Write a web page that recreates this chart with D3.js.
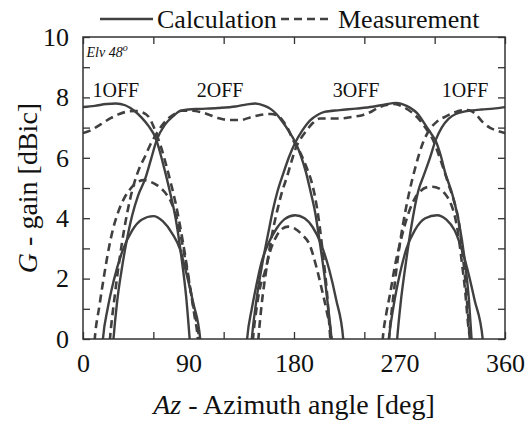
<!DOCTYPE html>
<html>
<head>
<meta charset="utf-8">
<script src="https://cdn.jsdelivr.net/npm/d3@7"></script>
<style>
  html, body { margin: 0; padding: 0; background: #fff; }
  svg { display: block; }
  svg text { font-family: "Liberation Serif", "Tinos", "Times New Roman", Times, "DejaVu Serif", serif !important; fill: #111; }
</style>
</head>
<body>
<svg id="chart" width="530" height="424"></svg>
<script>
// ---------------- data ----------------
const xTicks = [0, 60, 120, 180, 240, 300, 360];
const xLabels = [0, 90, 180, 270, 360];
const yTicks = [0, 1, 2, 3, 4, 5, 6, 7, 8, 9, 10];
const yLabels = [0, 2, 4, 6, 8, 10];

const stateLabels = ["1OFF", "2OFF", "3OFF", "1OFF"];
const stateLabelAz = [28, 117, 233, 326];
const stateLabelG = [8, 8, 8, 8];

// Calculation (solid)
const calc1OFF = [[0,7.68],[10,7.72],[20,7.78],[28,7.8],[36,7.74],[44,7.55],[50,7.33],[56,7.05],[62,6.65],[68,5.85],[74,4.9],[79,4.0],[84,2.7],[88,1.4],[91,0],[92,-0.5],
  null,
  [267,-0.5],[268,0],[271,1.2],[275,2.4],[280,3.7],[286,4.9],[291,5.45],[296,6.0],[301,6.6],[306,7.0],[312,7.3],[318,7.45],[325,7.53],[332,7.57],[340,7.6],[350,7.63],[360,7.68]];
const calc1OFFside = [[139,-0.5],[140,0],[144,1.0],[148,1.8],[152,2.5],[158,3.15],[165,3.65],[172,3.97],[181,4.1],[189,4.0],[196,3.7],[203,3.15],[210,2.3],[216,1.3],[222,0],[223,-0.5]];
const calc2OFF = [[25,-0.5],[26,0],[29,1.2],[33,2.3],[37,3.2],[42,4.1],[47,4.75],[53,5.3],[58,5.95],[63,6.6],[70,7.1],[77,7.38],[83,7.55],[90,7.6],[100,7.62],[115,7.65],[130,7.7],[140,7.77],[147,7.8],[155,7.72],[160,7.62],[165,7.45],[170,7.2],[175,6.92],[181,6.52],[186,6.05],[190,5.55],[194,4.9],[198,4.2],[202,3.2],[206,2.1],[209,1.1],[212,0],[213,-0.5]];
const calc3OFFside = [[16,-0.5],[17,0],[21,1.0],[26,1.9],[34,2.95],[42,3.6],[50,3.95],[60,4.07],[68,3.9],[76,3.5],[83,2.95],[88,2.2],[94,1.2],[100,0],[101,-0.5]];
const calc3OFF = [[143,-0.5],[144,0],[148,1.3],[153,2.5],[158,3.5],[162,4.27],[166,4.9],[171,5.5],[176,6.05],[181,6.5],[187,6.9],[194,7.25],[200,7.42],[206,7.52],[219,7.58],[233,7.63],[247,7.69],[258,7.77],[267,7.82],[276,7.72],[285,7.48],[293,7.03],[297,6.8],[301,6.55],[305,6.1],[309,5.5],[315,4.8],[321,3.8],[326,2.5],[329,1.4],[331.5,0],[332.5,-0.5]];
const calc2OFFside = [[260,-0.5],[261,0],[265,1.1],[270,2.1],[276,3.0],[283,3.6],[292,4.0],[302,4.1],[310,3.95],[317,3.6],[322,3.1],[328,2.3],[334,1.3],[341,0],[342,-0.5]];

// Measurement (dashed)
const meas1OFF = [[0,6.82],[6,6.9],[12,7.03],[18,7.18],[24,7.32],[31,7.45],[38,7.53],[45,7.55],[51,7.5],[57,7.3],[60,7.05],[63,6.75],[67,6.3],[71,5.75],[75,5.15],[79,4.5],[83,3.7],[87,2.8],[91,1.8],[95,0.8],[98,0],[99,-0.5],
  null,
  [260,-0.5],[261,0],[265,1.5],[269,2.8],[273,3.8],[278,4.8],[284,5.75],[290,6.5],[296,6.95],[302,7.2],[310,7.38],[318,7.52],[326,7.58],[331,7.55],[336,7.4],[341,7.18],[347,7.0],[353,6.9],[360,6.82]];
const meas3OFFside = [[9,-0.5],[10,0],[14,1.1],[18,2.1],[22,3.0],[26,3.7],[30,4.2],[35,4.65],[40,4.95],[46,5.18],[52,5.26],[58,5.2],[64,5.07],[70,4.85],[75,4.55],[80,4.0],[85,3.1],[90,2.0],[95,0.9],[99,0],[100,-0.5]];
const meas2OFF = [[22,-0.5],[23,0],[27,1.4],[31,2.6],[35,3.6],[40,4.6],[44,5.2],[48,5.65],[53,6.05],[57,6.4],[62,6.75],[67,7.05],[72,7.28],[78,7.45],[84,7.56],[92,7.56],[100,7.52],[108,7.42],[117,7.3],[125,7.25],[134,7.25],[142,7.33],[151,7.42],[160,7.45],[166,7.4],[170,7.25],[175,6.95],[179,6.6],[185,6.2],[190,5.75],[195,5.2],[198,4.7],[202,3.7],[205,2.7],[208,1.6],[211,0],[212,-0.5]];
const meas1OFFside = [[144,-0.5],[145,0],[148,1.0],[151,1.7],[155,2.2],[160,2.95],[165,3.4],[170,3.65],[175,3.72],[181,3.65],[187,3.45],[193,3.15],[199,2.4],[204,1.6],[208,0.9],[212,0],[213,-0.5]];
const meas3OFF = [[148.6,-0.5],[149.6,0],[152,1.0],[156,2.2],[161,3.4],[166,4.3],[170,4.9],[174,5.37],[178,5.9],[182,6.37],[186,6.65],[191,6.92],[196,7.15],[202,7.3],[210,7.3],[219,7.3],[229,7.35],[239,7.42],[247,7.55],[253,7.68],[260,7.76],[265,7.78],[270,7.74],[277,7.6],[285,7.35],[292,7.0],[298.6,6.59],[303,6.15],[307,5.7],[312,5.1],[317,4.5],[320,4.0],[323,3.1],[326,2.0],[328.5,0.8],[330,0],[331,-0.5]];
const meas2OFFside = [[254.7,-0.5],[255.7,0],[259,0.9],[262,1.5],[266,2.4],[270,3.1],[274,3.7],[278,4.2],[283,4.65],[288,4.9],[293,5.02],[298,5.04],[304,4.98],[309,4.8],[313,4.55],[317,4.1],[320,3.5],[323,2.6],[326,1.6],[328.5,0.5],[330,0],[331,-0.5]];

const calcSeries = [calc1OFF, calc1OFFside, calc2OFF, calc3OFFside, calc3OFF, calc2OFFside];
const measSeries = [meas1OFF, meas3OFFside, meas2OFF, meas1OFFside, meas3OFF, meas2OFFside];

// ---------------- layout ----------------
const W = 530, H = 424;
const m = { left: 83, right: 25, top: 37, bottom: 85 };
const pw = W - m.left - m.right, ph = H - m.top - m.bottom;
const lineColor = "#404040";
const FONT = '"Liberation Serif", "Tinos", "Times New Roman", Times, "DejaVu Serif", serif';

const svg = d3.select("#chart");
const x = d3.scaleLinear().domain([0, 360]).range([m.left, m.left + pw]);
const y = d3.scaleLinear().domain([0, 10]).range([m.top + ph, m.top]);

svg.append("clipPath").attr("id", "clip")
  .append("rect").attr("x", m.left).attr("y", m.top).attr("width", pw).attr("height", ph);

const line = d3.line()
  .defined(d => d !== null)
  .x(d => x(d[0])).y(d => y(d[1]))
  .curve(d3.curveMonotoneX);

const plot = svg.append("g").attr("clip-path", "url(#clip)");
plot.selectAll("path.meas").data(measSeries).join("path")
  .attr("class", "meas")
  .attr("d", line)
  .attr("fill", "none").attr("stroke", lineColor)
  .attr("stroke-width", 2.6).attr("stroke-dasharray", "8,5");
plot.selectAll("path.calc").data(calcSeries).join("path")
  .attr("class", "calc")
  .attr("d", line)
  .attr("fill", "none").attr("stroke", lineColor)
  .attr("stroke-width", 2.4);

// ---------------- axes ----------------
function styleTicks(g) {
  g.select(".domain").remove();
  g.selectAll("line").attr("stroke", "#333").attr("stroke-width", 1.3);
}
svg.append("g").attr("transform", `translate(0,${m.top + ph})`)
  .call(d3.axisBottom(x).tickValues(xTicks).tickSize(-7).tickFormat(""))
  .call(styleTicks);
svg.append("g").attr("transform", `translate(0,${m.top})`)
  .call(d3.axisTop(x).tickValues(xTicks).tickSize(-7).tickFormat(""))
  .call(styleTicks);
svg.append("g").attr("transform", `translate(${m.left},0)`)
  .call(d3.axisLeft(y).tickValues(yTicks).tickSize(-7).tickFormat(""))
  .call(styleTicks);
svg.append("g").attr("transform", `translate(${m.left + pw},0)`)
  .call(d3.axisRight(y).tickValues(yTicks).tickSize(-7).tickFormat(""))
  .call(styleTicks);

// tick labels
const xl = svg.append("g").attr("transform", `translate(0,${m.top + ph})`)
  .call(d3.axisBottom(x).tickValues(xLabels).tickSize(0).tickPadding(15).tickFormat(d3.format("d")));
xl.attr("font-family", FONT);
xl.select(".domain").remove();
xl.selectAll("text").attr("font-size", 26).attr("font-family", FONT).attr("fill", "#111");

const yl = svg.append("g").attr("transform", `translate(${m.left},0)`)
  .call(d3.axisLeft(y).tickValues(yLabels).tickSize(0).tickPadding(14).tickFormat(d3.format("d")));
yl.attr("font-family", FONT);
yl.select(".domain").remove();
yl.selectAll("text").attr("font-size", 26).attr("font-family", FONT).attr("fill", "#111");

// frame
svg.append("rect").attr("x", m.left).attr("y", m.top).attr("width", pw).attr("height", ph)
  .attr("fill", "none").attr("stroke", "#333").attr("stroke-width", 1.5);

// axis titles
const xt = svg.append("text").attr("x", m.left + pw / 2).attr("y", 414)
  .attr("text-anchor", "middle").attr("font-size", 28).attr("font-family", FONT);
xt.append("tspan").attr("font-style", "italic").text("Az");
xt.append("tspan").text(" - Azimuth angle [deg]");

const yt = svg.append("text")
  .attr("transform", `translate(37,${m.top + ph / 2}) rotate(-90)`)
  .attr("text-anchor", "middle").attr("font-size", 28).attr("font-family", FONT);
yt.append("tspan").attr("font-style", "italic").text("G");
yt.append("tspan").text(" - gain [dBic]");

// elevation note
const el = svg.append("text").attr("x", x(3)).attr("y", y(9.35))
  .attr("font-size", 14).attr("font-style", "italic").attr("font-family", FONT);
el.append("tspan").text("Elv 48");
el.append("tspan").attr("font-size", 10).attr("dy", -6).text("o");

// state labels
svg.append("g").selectAll("text").data(stateLabels).join("text")
  .attr("x", (d, i) => x(stateLabelAz[i]))
  .attr("y", (d, i) => y(stateLabelG[i]))
  .attr("text-anchor", "middle").attr("font-size", 20).attr("font-family", FONT)
  .text(d => d);

// legend
const lg = svg.append("g").attr("font-family", FONT);
lg.append("line").attr("x1", 100).attr("x2", 153).attr("y1", 19).attr("y2", 19)
  .attr("stroke", lineColor).attr("stroke-width", 2.6);
lg.append("text").attr("x", 157).attr("y", 28).attr("font-size", 26).text("Calculation");
lg.append("line").attr("x1", 281).attr("x2", 331).attr("y1", 19).attr("y2", 19)
  .attr("stroke", lineColor).attr("stroke-width", 2.6).attr("stroke-dasharray", "8,5");
lg.append("text").attr("x", 338).attr("y", 28).attr("font-size", 26).text("Measurement");
</script>
</body>
</html>
